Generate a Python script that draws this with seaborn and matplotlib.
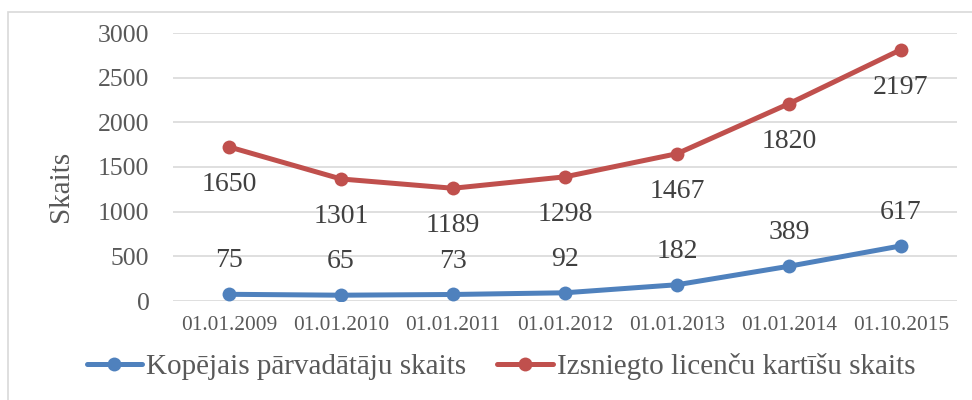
import numpy as np
import pandas as pd
import matplotlib
matplotlib.use("Agg")
import matplotlib.pyplot as plt
import seaborn as sns
from matplotlib.patches import Rectangle

categories = ["01.01.2009", "01.01.2010", "01.01.2011", "01.01.2012",
              "01.01.2013", "01.01.2014", "01.10.2015"]
parvaditaji = [75, 65, 73, 92, 182, 389, 617]
licences = [1650, 1301, 1189, 1298, 1467, 1820, 2197]
series_names = ["Kopējais pārvadātāju skaits", "Izsniegto licenču kartīšu skaits"]
yticks = [0, 500, 1000, 1500, 2000, 2500, 3000]

# stacked line chart: second series is drawn on top of the first
stacked = np.cumsum(np.array([parvaditaji, licences]), axis=0)

df = pd.DataFrame({
    "cat": categories * 2,
    "x": list(range(len(categories))) * 2,
    "y": list(stacked[0]) + list(stacked[1]),
    "label": parvaditaji + licences,
    "series": [series_names[0]] * len(categories) + [series_names[1]] * len(categories),
})

sns.set_theme(style="white")
plt.rcParams['font.family'] = ['Liberation Serif', 'DejaVu Serif']

colors = {series_names[0]: "#4F81BD", series_names[1]: "#C0504D"}
txt = "#404040"

fig = plt.figure(figsize=(9.72, 4.0), dpi=100)
ax = fig.add_axes([173/972, 1 - 301/400, 784/972, 268/400])

sns.lineplot(data=df, x="x", y="y", hue="series", palette=colors, ax=ax,
             marker="o", markersize=10, linewidth=3.6, markeredgewidth=0,
             legend=True)

ax.set_xlim(-0.5, 6.5)
ax.set_ylim(0, 3000)
ax.set_yticks(yticks)
ax.set_yticklabels([str(v) for v in yticks], fontsize=18.5, color="#595959")
ax.set_xticks(range(len(categories)))
ax.set_xticklabels(categories, fontsize=15.4, color="#595959")
ax.tick_params(axis="both", length=0)
ax.tick_params(axis="x", pad=11)
ax.tick_params(axis="y", pad=17)
ax.grid(axis="y", color="#d9d9d9", linewidth=1.2)
for s in ax.spines.values():
    s.set_visible(False)
ax.set_xlabel("")
ax.set_ylabel("Skaits", fontsize=21, color="#595959")
ax.yaxis.set_label_coords(74/972, 1 - 186/400, transform=fig.transFigure)

for i, row in df.iterrows():
    if row["series"] == series_names[0]:
        off = 24
    else:
        off = -27
    ax.annotate(str(row["label"]), (row["x"], row["y"]), xytext=(0, off),
                textcoords="offset points", ha="center", va="center",
                fontsize=20, color=txt)

handles, labels = ax.get_legend_handles_labels()
ax.legend(handles, labels, loc="center", bbox_to_anchor=(501/972, 1 - 367/400),
          bbox_transform=fig.transFigure, ncol=2, frameon=False,
          fontsize=21, labelcolor="#595959", handlelength=1.9, columnspacing=1.05,
          handletextpad=0.15, borderpad=0, borderaxespad=0)

fig.patches.append(Rectangle((8/972, -0.1), 1.1, 1 - 12/400 + 0.1,
                             transform=fig.transFigure, fill=False,
                             edgecolor="#d9d9d9", linewidth=1.2))

fig.savefig("out.png", dpi=100)
